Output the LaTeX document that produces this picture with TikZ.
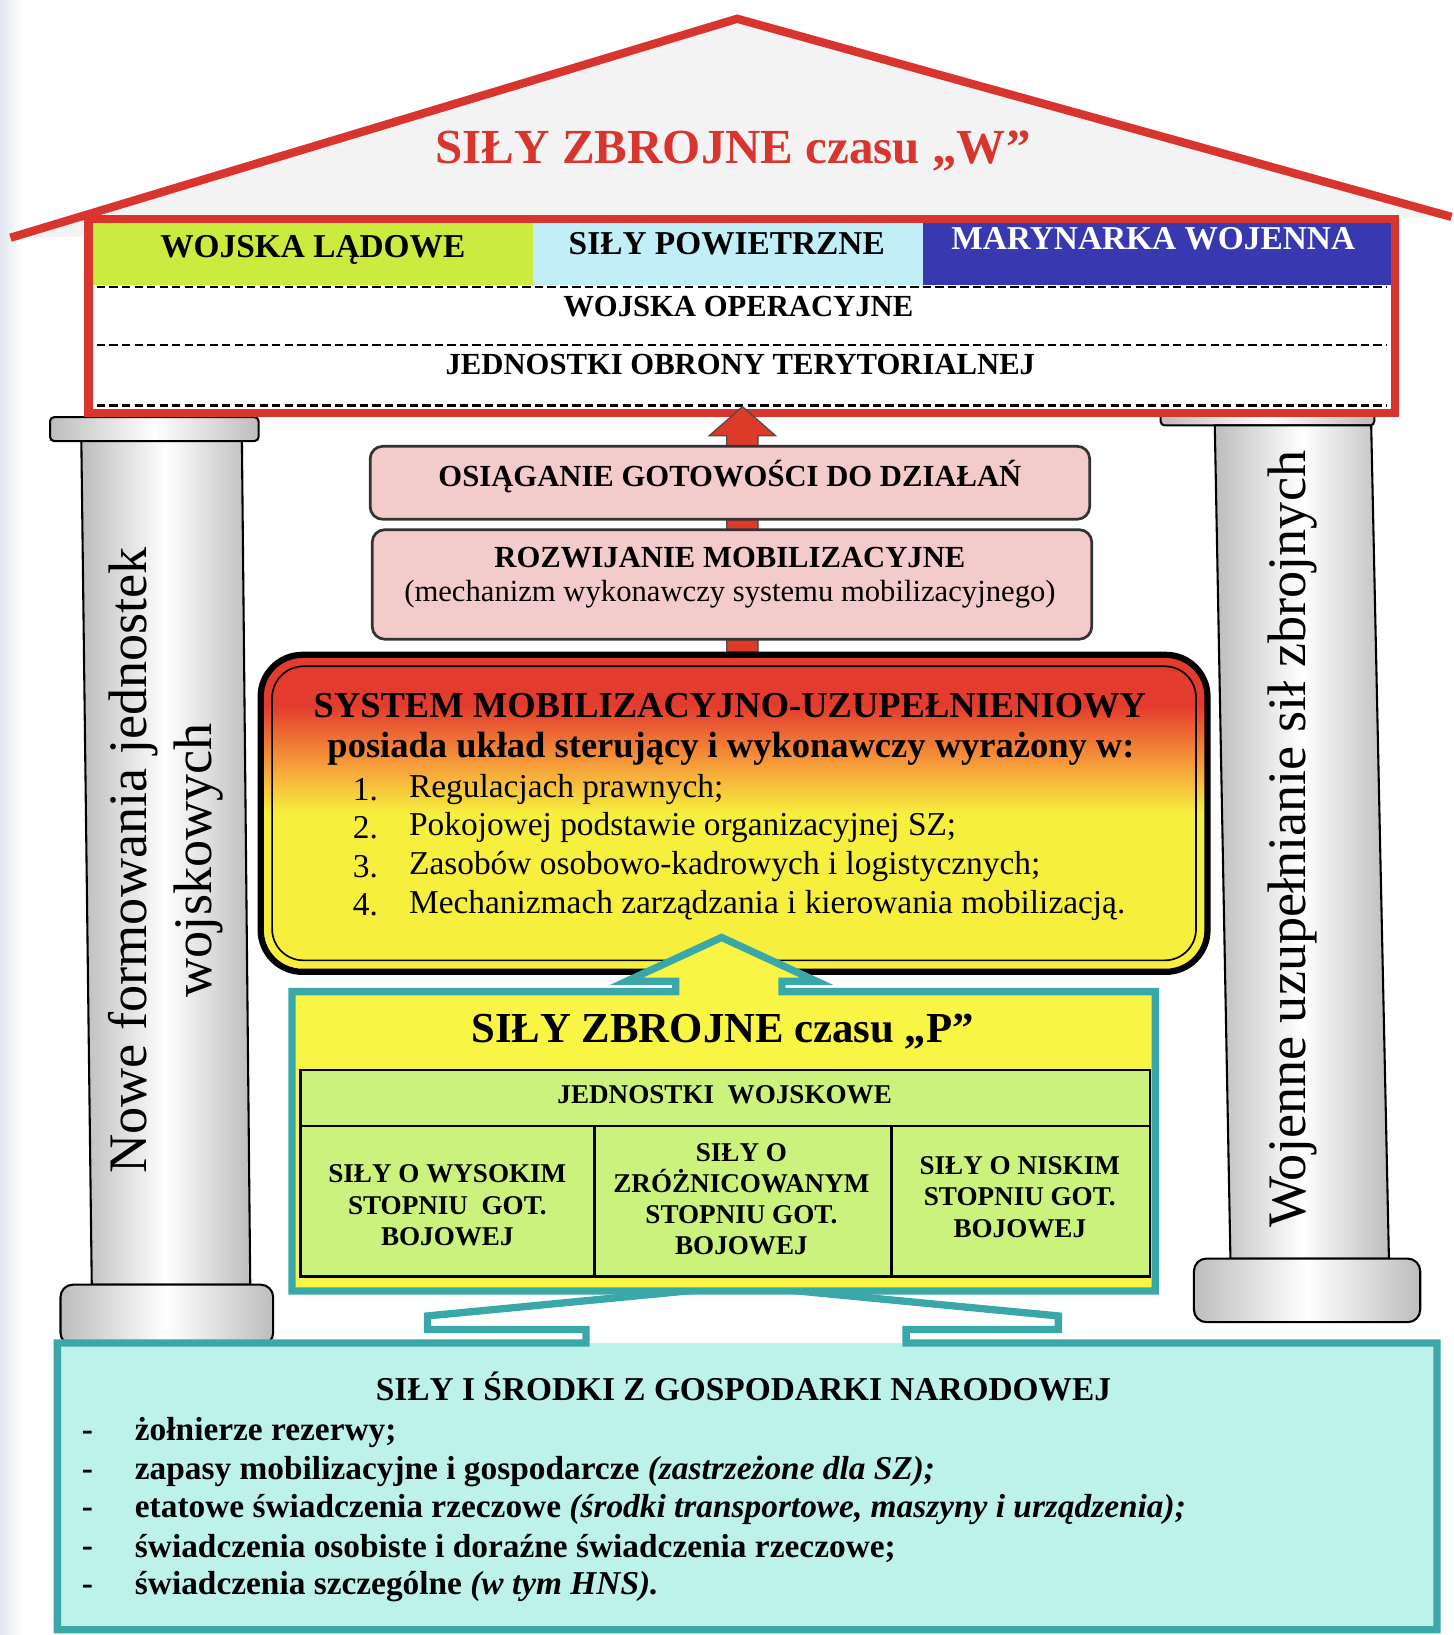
\documentclass[tikz,border=0pt]{standalone}
\usepackage{fontspec}
\setmainfont{Liberation Serif}
\definecolor{roofred}{HTML}{D8352F}
\definecolor{rooffill}{HTML}{F3F3F3}
\definecolor{limec}{HTML}{CDEB3F}
\definecolor{skyb}{HTML}{C2EEF7}
\definecolor{navyb}{HTML}{3838B0}
\definecolor{pinkc}{HTML}{F3CBCB}
\definecolor{arrowred}{HTML}{DE3A2A}
\definecolor{mred}{HTML}{E33B2E}
\definecolor{morange}{HTML}{F59A3A}
\definecolor{myellow}{HTML}{F7EF3E}
\definecolor{tealc}{HTML}{3AA8A8}
\definecolor{tealfill}{HTML}{BDF2EA}
\definecolor{pyellow}{HTML}{F8F545}
\definecolor{pgreen}{HTML}{CCF27E}
\definecolor{colgray}{HTML}{BDBDBD}
\definecolor{edgegray}{HTML}{E2E7EE}
\pgfdeclareverticalshading{mobshade}{100bp}{color(0bp)=(myellow); color(50bp)=(myellow); color(58bp)=(morange); color(67bp)=(mred); color(100bp)=(mred)}
\begin{document}
\begin{tikzpicture}[x=0.5pt,y=-0.5pt,
  cellt/.style={font=\fontsize{16}{19}\selectfont\bfseries, inner sep=0pt},
  rowt/.style={font=\fontsize{14.7}{17}\selectfont\bfseries, inner sep=0pt},
  pinkr/.style={font=\fontsize{14.7}{17}\selectfont, inner sep=0pt},
  headt/.style={font=\fontsize{17.5}{21}\selectfont\bfseries, inner sep=0pt},
  numt/.style={font=\fontsize{16}{19}\selectfont, inner sep=0pt, anchor=west},
  colt/.style={font=\fontsize{26}{30}\selectfont, inner sep=0pt, rotate=90},
  tabt/.style={font=\fontsize{13}{15}\selectfont\bfseries, inner sep=0pt, align=center},
  bott/.style={font=\fontsize{16}{19}\selectfont\bfseries, inner sep=0pt, anchor=west},
  dashlin/.style={line width=1.1pt, dash pattern=on 4pt off 2pt},
  colshade/.style={left color=colgray, right color=colgray, middle color=white, draw=black, line width=1pt}
]
\useasboundingbox (0,0) rectangle (1394,1568);
\fill[white] (0,0) rectangle (1394,1568);
\shade[left color=edgegray, right color=white] (0,0) rectangle (22,1568);
% roof
\fill[rooffill] (10,228) -- (707,18) -- (1392,208) -- cycle;
\draw[roofred, line width=4pt, line join=miter] (10,228) -- (707,18) -- (1392,208);
% left column
\shade[colshade, rounded corners=2pt] (48,400) rectangle (248,423);
\shade[colshade] (78,423) -- (232,423) -- (240,1232) -- (88,1232) -- cycle;
\shade[colshade, rounded corners=6pt] (58,1232) rectangle (262,1290);
% right column
\shade[colshade, rounded corners=2pt] (1113,390) rectangle (1318,408);
\shade[colshade] (1165,408) -- (1315,408) -- (1332,1207) -- (1180,1207) -- cycle;
\shade[colshade, rounded corners=6pt] (1145,1207) rectangle (1362,1268);
% red box
\fill[limec] (89,214) rectangle (511,273);
\fill[skyb] (511,214) rectangle (885,273);
\fill[navyb] (885,214) rectangle (1334,273);
\fill[white] (89,273) rectangle (1334,392);
\draw[dashlin] (93,275) -- (1330,275);
\draw[dashlin] (93,331) -- (1330,331);
\draw[dashlin] (93,389) -- (1330,389);
\draw[roofred, line width=4pt] (85,210) rectangle (1338,396);
% red arrow
\draw[fill=arrowred, draw=black!70, line width=0.6pt] (697,625) -- (697,418) -- (680,418) -- (712,390) -- (744,418) -- (727,418) -- (727,625) -- cycle;
% pink boxes
\draw[fill=pinkc, draw=black!80, line width=1.3pt, rounded corners=6pt] (355,428) rectangle (1045,498);
\draw[fill=pinkc, draw=black!80, line width=1.3pt, rounded corners=6pt] (357,508) rectangle (1047,613);
% gradient box
\shade[shading=mobshade, rounded corners=20pt] (250,628) rectangle (1158,932);
\draw[line width=3pt, rounded corners=20pt] (250,628) rectangle (1158,932);
\draw[line width=0.8pt, rounded corners=15pt] (261,639) rectangle (1147,921);
% bottom teal box with wide arrow
\fill[tealfill] (55,1288) rectangle (1378,1563);
\fill[white] (410,1262) -- (712,1233) -- (1015,1262) -- (1015,1275) -- (869,1275) -- (869,1288) -- (562,1288) -- (562,1275) -- (410,1275) -- cycle;
\draw[tealc, line width=3.5pt, line join=miter] (55,1288) -- (562,1288) -- (562,1275) -- (410,1275) -- (410,1262) -- (712,1233) -- (1015,1262) -- (1015,1275) -- (869,1275) -- (869,1288) -- (1378,1288) -- (1378,1563) -- (55,1563) -- cycle;
% P box with arrow
\draw[fill=pyellow, draw=tealc, line width=3.5pt, line join=miter] (280,951) -- (648,951) -- (648,941) -- (601,941) -- (692,899) -- (783,941) -- (750,941) -- (750,951) -- (1108,951) -- (1108,1238) -- (280,1238) -- cycle;
\draw[fill=pgreen, line width=1.2pt] (288,1026) rectangle (1103,1224);
\draw[line width=1.2pt] (288,1080) -- (1103,1080);
\draw[line width=1.2pt] (570,1080) -- (570,1224);
\draw[line width=1.2pt] (855,1080) -- (855,1224);
% texts: roof and top box
\node[font=\fontsize{23.5}{28}\selectfont\bfseries, text=roofred, inner sep=0pt] (wtitle) at (703,145) {SIŁY ZBROJNE czasu „W”};
\node[cellt] (land) at (300,240) {WOJSKA LĄDOWE};
\node[cellt] (air) at (697,234) {SIŁY POWIETRZNE};
\node[cellt, text=white] (navy) at (1106,229) {MARYNARKA WOJENNA};
\node[rowt] (oper) at (708,294) {WOJSKA OPERACYJNE};
\node[rowt] (jot) at (710,350) {JEDNOSTKI OBRONY TERYTORIALNEJ};
% columns text
\node[colt] (lc1) at (128,825) {Nowe formowania jednostek};
\node[colt] (lc2) at (190,825) {wojskowych};
\node[colt] (rc) at (1240,805) {Wojenne uzupełnianie sił zbrojnych};
% pink texts
\node[rowt] (osi) at (700,457) {OSIĄGANIE GOTOWOŚCI DO DZIAŁAŃ};
\node[rowt] (roz) at (700,535) {ROZWIJANIE MOBILIZACYJNE};
\node[pinkr] (mech) at (700,570) {(mechanizm wykonawczy systemu mobilizacyjnego)};
% gradient texts
\node[headt] (sys) at (700,677) {SYSTEM MOBILIZACYJNO-UZUPEŁNIENIOWY};
\node[headt] (pos) at (701,718) {posiada układ sterujący i wykonawczy wyrażony w:};
\node[numt] (n1) at (338,757) {1.};
\node[numt] (t1) at (392,757) {Regulacjach prawnych;};
\node[numt] (n2) at (338,794) {2.};
\node[numt] (t2) at (392,794) {Pokojowej podstawie organizacyjnej SZ;};
\node[numt] (n3) at (338,831) {3.};
\node[numt] (t3) at (392,831) {Zasobów osobowo-kadrowych i logistycznych;};
\node[numt] (n4) at (338,868) {4.};
\node[numt] (t4) at (392,868) {Mechanizmach zarządzania i kierowania mobilizacją.};
% P box texts
\node[font=\fontsize{20.5}{24}\selectfont\bfseries, inner sep=0pt] (ptitle) at (693,989) {SIŁY ZBROJNE czasu „P”};
\node[tabt] (jw) at (695,1050) {JEDNOSTKI\ \ WOJSKOWE};
\node[tabt] (c1) at (429,1156) {SIŁY O WYSOKIM\\STOPNIU\ \ GOT.\\BOJOWEJ};
\node[tabt] (c2) at (711,1150) {SIŁY O\\ZRÓŻNICOWANYM\\STOPNIU GOT.\\BOJOWEJ};
\node[tabt] (c3) at (978,1148) {SIŁY O NISKIM\\STOPNIU GOT.\\BOJOWEJ};
% bottom texts
\node[font=\fontsize{16}{19}\selectfont\bfseries, inner sep=0pt] (gos) at (713,1330) {SIŁY I ŚRODKI Z GOSPODARKI NARODOWEJ};
\node[bott] (b1) at (78,1377) {-};
\node[bott] (i1) at (129,1374) {żołnierze rezerwy;};
\node[bott] (b2) at (78,1414) {-};
\node[bott] (i2) at (129,1411) {zapasy mobilizacyjne i gospodarcze \textit{(zastrzeżone dla SZ);}};
\node[bott] (b3) at (78,1451) {-};
\node[bott] (i3) at (129,1448) {etatowe świadczenia rzeczowe \textit{(środki transportowe, maszyny i urządzenia);}};
\node[bott] (b4) at (78,1488) {-};
\node[bott] (i4) at (129,1485) {świadczenia osobiste i doraźne świadczenia rzeczowe;};
\node[bott] (b5) at (78,1525) {-};
\node[bott] (i5) at (129,1522) {świadczenia szczególne \textit{(w tym HNS).}};
\end{tikzpicture}
\end{document}
